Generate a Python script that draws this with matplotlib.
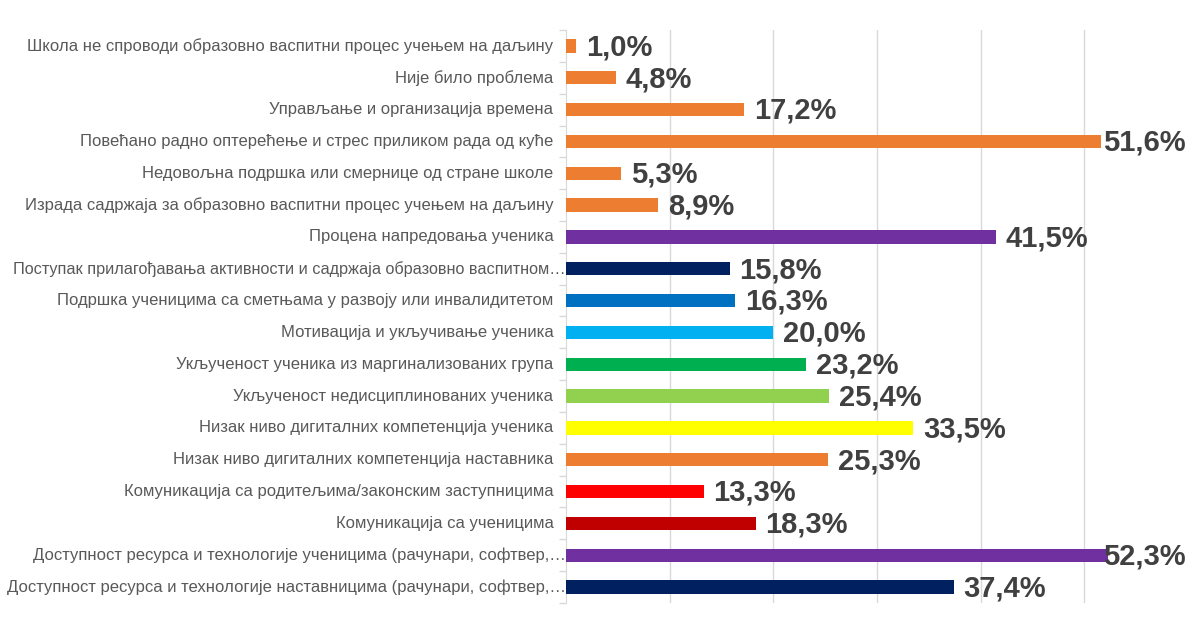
import matplotlib.pyplot as plt
from matplotlib.ticker import FixedLocator, NullFormatter

# categories, top to bottom
labels = [
    'Школа не спроводи образовно васпитни процес учењем на даљину',
    'Није било проблема',
    'Управљање и организација времена',
    'Повећано радно оптерећење и стрес приликом рада од куће',
    'Недовољна подршка или смернице од стране школе',
    'Израда садржаја за образовно васпитни процес учењем на даљину',
    'Процена напредовања ученика',
    'Поступак прилагођавања активности и садржаја образовно васпитном…',
    'Подршка ученицима са сметњама у развоју или инвалидитетом',
    'Мотивација и укључивање ученика',
    'Укљученост ученика из маргинализованих група',
    'Укљученост недисциплинованих ученика',
    'Низак ниво дигиталних компетенција ученика',
    'Низак ниво дигиталних компетенција наставника',
    'Комуникација са родитељима/законским заступницима',
    'Комуникација са ученицима',
    'Доступност ресурса и технологије ученицима (рачунари, софтвер,…',
    'Доступност ресурса и технологије наставницима (рачунари, софтвер,…',
]
values = [1.0, 4.8, 17.2, 51.6, 5.3, 8.9, 41.5, 15.8, 16.3, 20.0,
          23.2, 25.4, 33.5, 25.3, 13.3, 18.3, 52.3, 37.4]
colors = ['#ED7D31'] * 6 + ['#7030A0', '#002060', '#0070C0', '#00B0F0',
          '#00B050', '#92D050', '#FFFF00', '#ED7D31', '#FF0000', '#C00000',
          '#7030A0', '#002060']
truncated = [7, 16, 17]

plt.rcParams['font.family'] = ['Liberation Sans', 'DejaVu Sans']

fig = plt.figure(figsize=(11.88, 6.33), dpi=100)
ax = fig.add_axes([0.4764, 0.0474, 0.5236, 0.9052])

y = list(range(len(labels)))
ax.barh(y, values, height=0.42, color=colors, zorder=3)

ax.set_xlim(0, 60)
ax.set_ylim(len(labels) - 0.5, -0.5)

ax.set_xticks([10, 20, 30, 40, 50])
ax.xaxis.set_major_formatter(NullFormatter())
ax.tick_params(axis='x', length=0)
ax.grid(axis='x', color='#D9D9D9', linewidth=1, zorder=0)

ax.set_yticks([])
ax.yaxis.set_minor_locator(FixedLocator([i - 0.5 for i in range(len(labels) + 1)]))
ax.tick_params(axis='y', which='minor', length=5, color='#D9D9D9', width=1)

for s in ['top', 'right', 'bottom']:
    ax.spines[s].set_visible(False)
ax.spines['left'].set_color('#D9D9D9')

for i, lab in enumerate(labels):
    off = 0 if i in truncated else -9
    size = 11.7 if i == 7 else 12
    ax.annotate(lab, (0, i), xytext=(off, 0), textcoords='offset points',
                ha='right', va='center', fontsize=size, color='#595959')

for i, v in enumerate(values):
    txt = f'{v:.1f}%'.replace('.', ',')
    if v > 50:
        ax.annotate(txt, (60, i), xytext=(-2, -1), textcoords='offset points',
                    ha='right', va='center', fontsize=21, fontweight='bold',
                    color='#404040', zorder=4)
    else:
        ax.annotate(txt, (v, i), xytext=(7, -1), textcoords='offset points',
                    ha='left', va='center', fontsize=21, fontweight='bold',
                    color='#404040', zorder=4)

fig.savefig('out.png', dpi=100)
